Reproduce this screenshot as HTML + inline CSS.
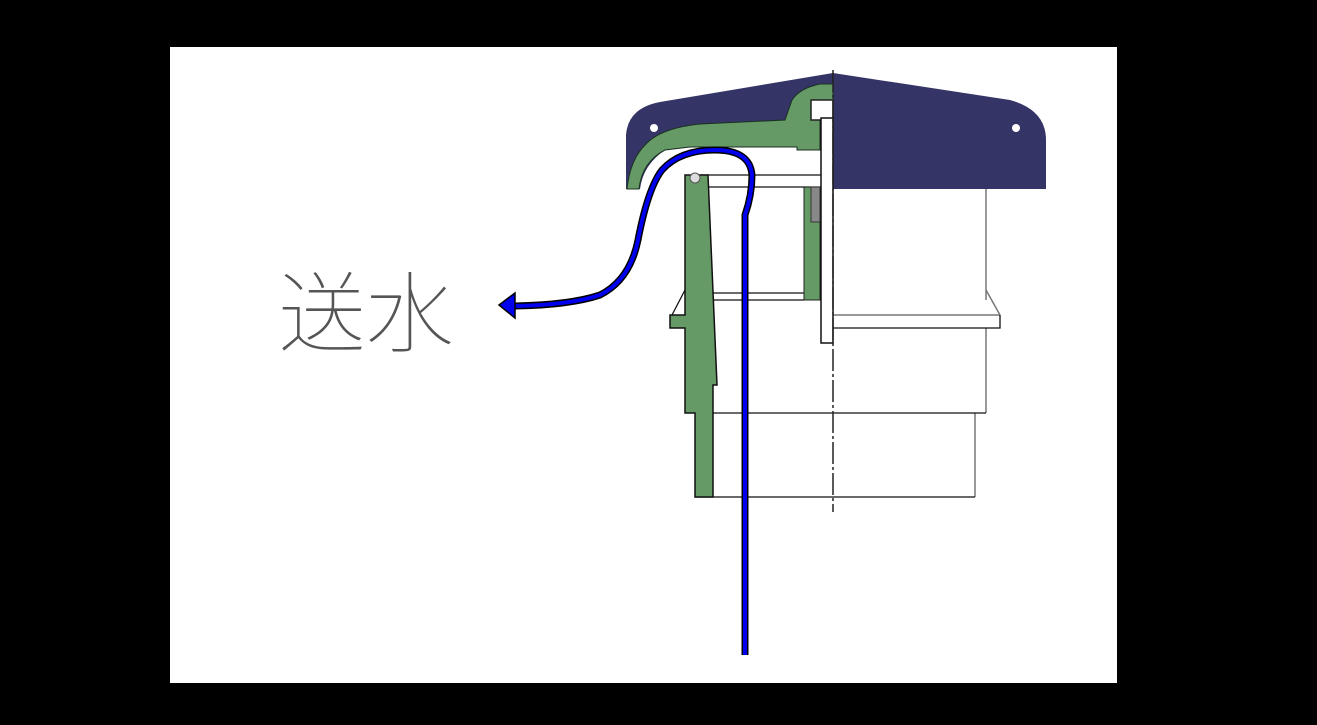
<!DOCTYPE html>
<html><head><meta charset="utf-8"><style>
html,body{margin:0;padding:0;background:#000;width:1317px;height:725px;overflow:hidden}
svg{position:absolute;left:0;top:0}
</style></head><body>
<svg width="1317" height="725" viewBox="0 0 1317 725" xmlns="http://www.w3.org/2000/svg">
<rect x="170" y="47" width="947" height="636" fill="#fff"/>
<!-- navy cap -->
<path d="M833,73 L1010,100 Q1046,110 1046,140 L1046,189 L626,189 L626,135 Q628,108 660,102 Z" fill="#343466"/>
<circle cx="654" cy="128" r="4" fill="#fff"/><circle cx="1016" cy="128" r="4" fill="#fff"/>
<!-- white cavity under cap -->
<path d="M640,189 Q643,165 665,150 L690,147 L797,147 L797,150 L833,150 L833,189 Z" fill="#fff"/>
<!-- green cap inner -->
<path d="M627,189 L639,189 Q642,162 665,150 L690,147 L797,147 L797,150 L820,150 L820,120 L833,120 L833,84 L820,84 Q800,88 792,100 L785,120 L700,124 Q660,128 645,145 Q630,160 627,189 Z" fill="#659966" stroke="#1a3020" stroke-width="1"/>
<rect x="811" y="100" width="22" height="20" fill="#fff" stroke="#222" stroke-width="1.5"/>
<!-- right body lines -->
<g fill="none" stroke="#777" stroke-width="1.5">
<line x1="986" y1="189" x2="986" y2="300"/>
<line x1="986" y1="328" x2="986" y2="413"/>
<line x1="975" y1="413" x2="975" y2="497"/>
<line x1="986" y1="290" x2="1000" y2="315"/>
<line x1="833" y1="315" x2="1000" y2="315"/>
</g>
<g fill="none" stroke="#111" stroke-width="1.3">
<path d="M833,328 L1000,328 L1000,315"/>
<line x1="713" y1="413" x2="986" y2="413"/>
<line x1="695" y1="497" x2="975" y2="497"/>
<line x1="700" y1="175" x2="833" y2="175"/>
<line x1="700" y1="187" x2="833" y2="187"/>
<line x1="713" y1="293" x2="804" y2="293"/>
<line x1="713" y1="300" x2="804" y2="300"/>
<line x1="685" y1="290" x2="672" y2="315"/>
</g>
<!-- green left body -->
<path d="M685,175 L708,175 L717,385 L713,385 L713,497 L695,497 L695,413 L685,413 L685,328 L670,328 L670,315 L685,315 Z" fill="#659966" stroke="#111" stroke-width="1.5"/>
<circle cx="695" cy="178" r="5" fill="#ddd" stroke="#555"/>
<!-- green right piece -->
<rect x="804" y="187" width="16" height="113" fill="#659966" stroke="#222" stroke-width="1"/>
<rect x="811" y="187" width="9" height="35" fill="#888" stroke="#333" stroke-width="1"/>
<!-- rod -->
<rect x="821" y="118" width="12" height="225" fill="#fff" stroke="#111" stroke-width="1.5"/>
<!-- center line -->
<line x1="833" y1="70" x2="833" y2="512" stroke="#222" stroke-width="1.5" stroke-dasharray="22,3,3,3"/>
<!-- blue pipe -->
<path d="M745,655 L745,215 Q752,195 752,175 Q750,150 715,150 Q680,150 662,170 Q648,188 638,240 Q630,280 600,295 Q570,305 515,306" fill="none" stroke="#000" stroke-width="7"/>
<path d="M745,655 L745,215 Q752,195 752,175 Q750,150 715,150 Q680,150 662,170 Q648,188 638,240 Q630,280 600,295 Q570,305 515,306" fill="none" stroke="#0000ee" stroke-width="4"/>
<path d="M499,305 L515,293 L515,318 Z" fill="#0000ee" stroke="#000" stroke-width="1.5"/>
<text x="278" y="345" font-family="'Liberation Sans','Noto Sans CJK JP',sans-serif" font-size="88" font-weight="100" fill="#555">送水</text>
</svg>
</body></html>
